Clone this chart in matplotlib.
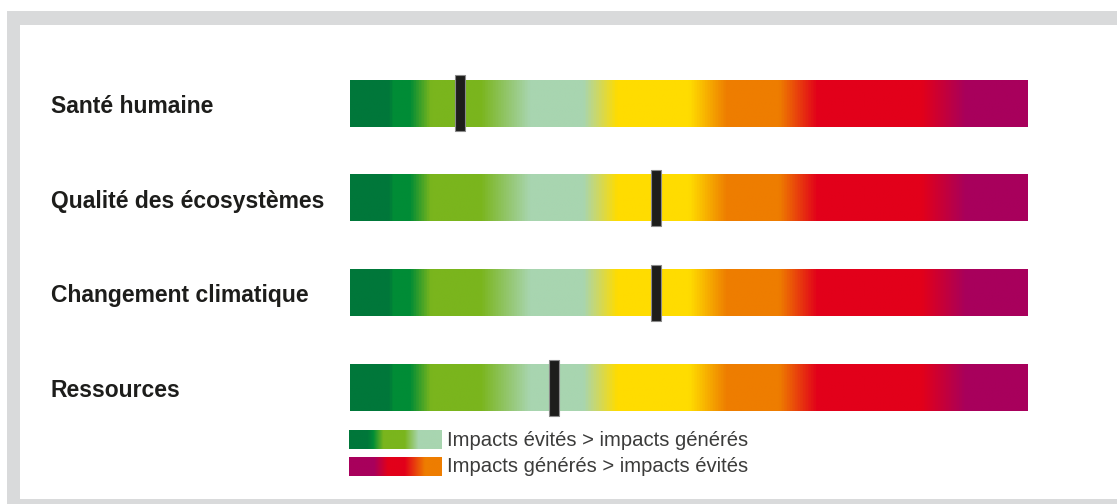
import numpy as np
import matplotlib
matplotlib.use('Agg')
from matplotlib import pyplot as plt
from matplotlib.colors import LinearSegmentedColormap
from matplotlib.patches import Rectangle

# Indicateurs et position du curseur sur l'échelle (0 = vert, 100 = violet)
Categories = ['Santé humaine', 'Qualité des écosystèmes', 'Changement climatique', 'Ressources']
Positions = [16.2, 45.1, 45.1, 30.1]
Legende = ['Impacts évités > impacts générés', 'Impacts générés > impacts évités']

# Couleurs de l'échelle
VERT_F = '#00773a'
VERT = '#008c36'
VERT_C = '#7ab51d'
VERT_P = '#a8d5b0'
JAUNE = '#ffdc00'
ORANGE = '#ee7d00'
ROUGE = '#e2001a'
VIOLET = '#a8005c'

Echelle = LinearSegmentedColormap.from_list('echelle', [
    (0.000, VERT_F), (0.058, VERT_F), (0.060, VERT), (0.087, VERT),
    (0.118, VERT_C), (0.192, VERT_C), (0.265, VERT_P), (0.344, VERT_P),
    (0.394, JAUNE), (0.501, JAUNE), (0.556, ORANGE), (0.634, ORANGE),
    (0.690, ROUGE), (0.845, ROUGE), (0.910, VIOLET), (1.000, VIOLET)])
Leg_vert = LinearSegmentedColormap.from_list('leg_vert', [
    (0.0, VERT_F), (0.2, VERT_F), (0.26, VERT), (0.37, VERT_C),
    (0.6, VERT_C), (0.75, VERT_P), (1.0, VERT_P)])
Leg_rouge = LinearSegmentedColormap.from_list('leg_rouge', [
    (0.0, VIOLET), (0.27, VIOLET), (0.42, ROUGE), (0.6, ROUGE),
    (0.82, ORANGE), (1.0, ORANGE)])

W, H = 1117, 504
fig = plt.figure(figsize=(W / 100, H / 100), dpi=100)
fig.patch.set_facecolor('white')

def px(x, y, w, h):
    # rectangle en pixels (origine en haut à gauche) -> coordonnées figure
    return [x / W, 1 - (y + h) / H, w / W, h / H]

# Cadre gris
GRIS = '#d9dadb'
for r in [px(7, 11, W - 7, 14), px(7, 11, 13, H - 11), px(7, 499, W - 7, 5)]:
    fig.patches.append(Rectangle(r[:2], r[2], r[3], transform=fig.transFigure,
                                 facecolor=GRIS, edgecolor='none', zorder=0))

# Barres principales
ax = fig.add_axes(px(350, 56, 678, 379.3))
grad = np.linspace(0, 1, 512).reshape(1, -1)
h_barre = 0.49
for i, cat in enumerate(Categories):
    ax.imshow(grad, cmap=Echelle, aspect='auto', interpolation='bilinear',
              extent=(0, 100, i + h_barre / 2, i - h_barre / 2))
    ax.text(-299 / 678 * 100, i + 0.03, cat, ha='left', va='center',
            fontsize=16.5, fontweight='bold', color='#1d1d1b',
            family=['Liberation Sans', 'DejaVu Sans'])
y = np.arange(len(Categories))
ax.bar(Positions, 0.59, width=1.47, bottom=y - 0.295, color='#1d1d1b',
       edgecolor='#8a8a8a', linewidth=0.8, zorder=3)
ax.set_xlim(0, 100)
ax.set_ylim(len(Categories) - 0.5, -0.5)
ax.axis('off')

# Légende
for k, (cm, txt) in enumerate(zip([Leg_vert, Leg_rouge], Legende)):
    axl = fig.add_axes(px(349, 430 + 27 * k, 93, 19))
    axl.imshow(grad, cmap=cm, aspect='auto', interpolation='bilinear')
    axl.axis('off')
    fig.text(447 / W, 1 - (440 + 27 * k) / H, txt, ha='left', va='center',
             fontsize=14.6, color='#3c3c3b',
             family=['Liberation Sans', 'DejaVu Sans'])

fig.savefig('out.png', dpi=100)
